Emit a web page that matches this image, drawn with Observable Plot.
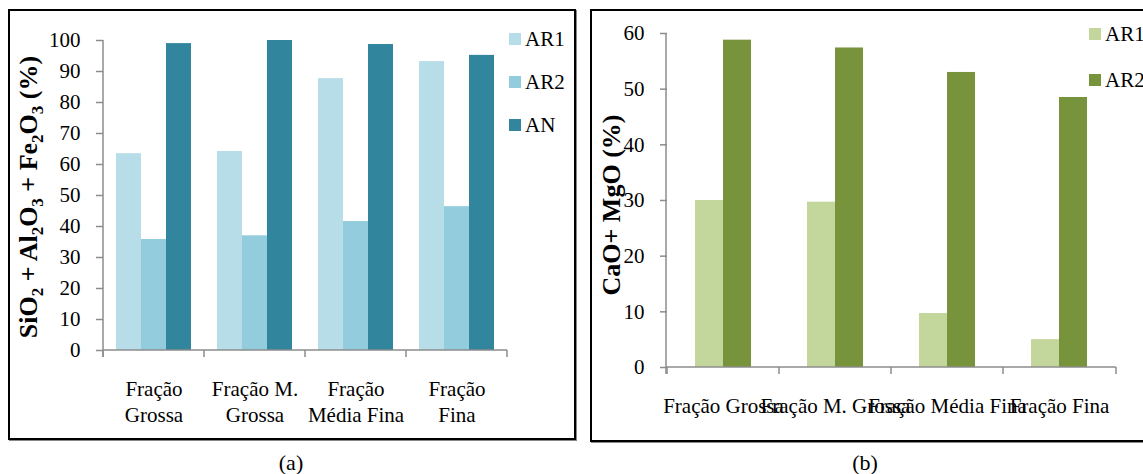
<!DOCTYPE html>
<html>
<head>
<meta charset="utf-8">
<script src="https://cdn.jsdelivr.net/npm/d3@7"></script>
<script src="https://cdn.jsdelivr.net/npm/@observablehq/plot@0.6"></script>
<style>
  html, body { margin: 0; padding: 0; background: #fff; }
  body { width: 1143px; height: 474px; overflow: hidden; position: relative; font-family: "Liberation Serif", serif; color: #000; }
  .box { position: absolute; border: 2px solid #000; box-sizing: border-box; box-shadow: 1px 1px 0 #888; }
  #boxA { left: 8px; top: 9px; width: 568px; height: 431px; }
  #boxB { left: 590px; top: 9px; width: 600px; height: 433px; }
  .chart { position: absolute; top: 0; }
  #chartA { left: 0; }
  #chartB { left: 585px; }
  .legend { position: absolute; font-size: 21px; }
  .legend .row { position: absolute; display: flex; align-items: center; white-space: nowrap; height: 20px; }
  .legend .sw { width: 12px; height: 12px; margin-right: 4px; }
  .cap { position: absolute; top: 451px; font-size: 22px; line-height: 24px; transform: translateX(-50%); }
</style>
</head>
<body>
<div class="box" id="boxA"></div>
<div class="box" id="boxB"></div>
<div class="chart" id="chartA"></div>
<div class="chart" id="chartB"></div>
<div class="legend" id="legA"></div>
<div class="legend" id="legB"></div>
<div class="cap" style="left:291px">(a)</div>
<div class="cap" style="left:865px">(b)</div>
<script>
// ---------- data ----------
const categories = ["Fração Grossa", "Fração M. Grossa", "Fração Média Fina", "Fração Fina"];
const tickLabelsA = ["Fração\nGrossa", "Fração M.\nGrossa", "Fração\nMédia Fina", "Fração\nFina"];
const tickLabelsB = ["Fração Grossa", "Fração M. Grossa", "Fração Média Fina", "Fração Fina"];

const seriesA = ["AR1", "AR2", "AN"];
const ar1A = [63.5, 64.2, 87.7, 93.2];
const ar2A = [35.8, 37.0, 41.6, 46.4];
const anA  = [99.0, 100.0, 98.7, 95.2];
const colorsA = ["#b7dde8", "#93cddd", "#31859c"];
const yTicksA = [0, 10, 20, 30, 40, 50, 60, 70, 80, 90, 100];

const seriesB = ["AR1", "AR2"];
const ar1B = [30.0, 29.7, 9.7, 5.0];
const ar2B = [58.8, 57.4, 53.0, 48.5];
const colorsB = ["#c3d69b", "#77933c"];
const yTicksB = [0, 10, 20, 30, 40, 50, 60];

const rowsA = categories.flatMap((c, i) => [ar1A, ar2A, anA].map((arr, j) => ({cat: c, series: seriesA[j], value: arr[i]})));
const rowsB = categories.flatMap((c, i) => [ar1B, ar2B].map((arr, j) => ({cat: c, series: seriesB[j], value: arr[i]})));

const AXIS = "#8c8c8c";
const FONT = "Liberation Serif";

function makeChart(opts) {
  const {rows, series, colors, yDomain, yTicks, tickLabels, width, height, margins} = opts;
  const chart = Plot.plot({
    width, height,
    marginLeft: margins[0], marginRight: margins[1], marginTop: margins[2], marginBottom: margins[3],
    style: {fontFamily: FONT, fontSize: "21px", color: "#000", background: "transparent", overflow: "visible"},
    fx: {domain: categories, padding: 0, label: null},
    x: {domain: series, paddingInner: 0, paddingOuter: opts.xPadOuter, axis: null},
    y: {domain: yDomain, label: null},
    color: {domain: series, range: colors},
    marks: [
      Plot.barY(rows, {fx: "cat", x: "series", y: "value", fill: "series"}),
      Plot.axisY({ticks: yTicks, tickSize: 7, tickPadding: 16, stroke: AXIS, strokeWidth: 1.5, fill: "#000", fontSize: 21, label: null, tickFormat: d => String(d)}),
      Plot.axisFx({anchor: "bottom", tickSize: 0, tickPadding: 27, fontSize: 21, lineHeight: 1.24, label: null, fill: "#000",
                   tickFormat: d => tickLabels[categories.indexOf(d)]})
    ]
  });
  // axis lines and category boundary ticks from the plot's own scales
  const fx = chart.scale("fx"), y = chart.scale("y");
  const svg = d3.select(chart);
  const g = svg.append("g").attr("stroke", AXIS).attr("stroke-width", 1.5);
  const x0 = fx.range[0], x1 = fx.range[1];
  const y0 = y.apply(yDomain[0]), yTop = y.apply(yDomain[1]);
  g.append("line").attr("x1", x0).attr("x2", x0).attr("y1", y0 + 7).attr("y2", yTop);
  g.append("line").attr("x1", x0).attr("x2", x1).attr("y1", y0).attr("y2", y0);
  const bounds = categories.map(c => fx.apply(c)).concat([x1]);
  bounds.forEach(b => g.append("line").attr("x1", b).attr("x2", b).attr("y1", y0).attr("y2", y0 + 7));
  return chart;
}

const chartA = makeChart({
  rows: rowsA, series: seriesA, colors: colorsA, yDomain: [0, 100], yTicks: yTicksA, tickLabels: tickLabelsA,
  width: 580, height: 445, margins: [103, 73, 40, 95], xPadOuter: 0.47
});
const chartB = makeChart({
  rows: rowsB, series: seriesB, colors: colorsB, yDomain: [0, 60], yTicks: yTicksB, tickLabels: tickLabelsB,
  width: 558, height: 445, margins: [81, 27, 33, 78], xPadOuter: 1
});

// y-axis titles with subscripts
function addTitle(chart, x, yc, parts) {
  const t = d3.select(chart).append("text")
    .attr("transform", `translate(${x},${yc}) rotate(-90)`)
    .attr("text-anchor", "middle")
    .attr("font-family", FONT).attr("font-weight", "bold").attr("font-size", 26).attr("fill", "#000");
  let shifted = false;
  parts.forEach(([s, sub]) => {
    const ts = t.append("tspan").text(s);
    if (sub && !shifted) { ts.attr("dy", 6).attr("font-size", 17); shifted = true; }
    else if (!sub && shifted) { ts.attr("dy", -6); shifted = false; }
    else if (sub) ts.attr("font-size", 17);
  });
}
addTitle(chartA, 37, 197, [["SiO"], ["2", 1], [" + Al"], ["2", 1], ["O"], ["3", 1], [" + Fe"], ["2", 1], ["O"], ["3", 1], [" (%)"]]);
addTitle(chartB, 35, 205, [["CaO+ MgO (%)"]]);

document.getElementById("chartA").appendChild(chartA);
document.getElementById("chartB").appendChild(chartB);

// legends
function legend(id, series, colors, left, top, step) {
  const el = document.getElementById(id);
  el.style.left = left + "px"; el.style.top = top + "px";
  series.forEach((s, i) => {
    const row = document.createElement("div");
    row.className = "row";
    row.style.top = (i * step) + "px";
    const sw = document.createElement("span");
    sw.className = "sw"; sw.style.background = colors[i];
    const tx = document.createElement("span");
    tx.textContent = s;
    row.appendChild(sw); row.appendChild(tx);
    el.appendChild(row);
  });
}
legend("legA", seriesA, colorsA, 509, 29, 43);
legend("legB", seriesB, colorsB, 1089, 24, 46);
</script>
</body>
</html>
